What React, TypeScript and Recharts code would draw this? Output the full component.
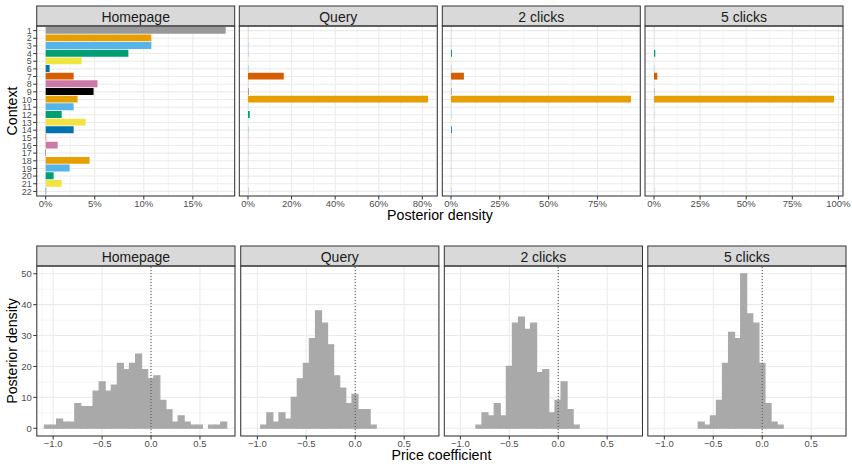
import React from 'react';
import { BarChart, Bar, XAxis, YAxis, CartesianGrid, Cell, ReferenceLine } from 'recharts';

// ---------- data ----------
const panelNames = ['Homepage', 'Query', '2 clicks', '5 clicks'];

const contexts = ['1', '2', '3', '4', '5', '6', '7', '8', '9', '10', '11', '12', '13', '14', '15', '16', '17', '18', '19', '20', '21', '22'];
const contextColors = [
  '#999999', '#E69F00', '#56B4E9', '#009E73', '#F0E442', '#0072B2', '#D55E00', '#CC79A7', '#000000',
  '#E69F00', '#56B4E9', '#009E73', '#F0E442', '#0072B2', '#D55E00', '#CC79A7', '#000000',
  '#E69F00', '#56B4E9', '#009E73', '#F0E442', '#0072B2',
];

// posterior share of each context (percent)
const homepageShare = [18.35, 10.77, 10.77, 8.43, 3.66, 0.4, 2.85, 5.28, 4.88, 3.25, 2.85, 1.63, 4.07, 2.85, 0.05, 1.22, 0.03, 4.47, 2.44, 0.81, 1.63, 0.05];
const queryShare = [0.1, 0.1, 0.15, 0.1, 0.1, 0.1, 16.4, 0.1, 0.15, 82.6, 0.1, 0.8, 0.1, 0.1, 0.1, 0.1, 0.05, 0.1, 0.1, 0.05, 0.1, 0.1];
const twoClickShare = [0.1, 0.1, 0.1, 0.5, 0.1, 0.1, 6.6, 0.1, 0.15, 92.2, 0.1, 0.1, 0.1, 0.4, 0.1, 0.1, 0.05, 0.1, 0.1, 0.05, 0.1, 0.1];
const fiveClickShare = [0.08, 0.08, 0.08, 0.7, 0.08, 0.08, 1.8, 0.08, 0.1, 97.6, 0.08, 0.08, 0.08, 0.08, 0.08, 0.08, 0.05, 0.08, 0.08, 0.05, 0.08, 0.08];
const topShares = [homepageShare, queryShare, twoClickShare, fiveClickShare];

const topMajorTicks = [[0, 5, 10, 15], [0, 20, 40, 60, 80], [0, 25, 50, 75], [0, 25, 50, 75, 100]];
const topMinorTicks = [[2.5, 7.5, 12.5, 17.5], [10, 30, 50, 70], [12.5, 37.5, 62.5, 87.5], [12.5, 37.5, 62.5, 87.5]];

// histogram of price coefficient draws
const binCenters = [
  -1.058, -0.996, -0.934, -0.872, -0.810, -0.748, -0.685, -0.623, -0.561, -0.499,
  -0.437, -0.375, -0.313, -0.251, -0.189, -0.127, -0.064, -0.002, 0.060, 0.122,
  0.184, 0.246, 0.308, 0.370, 0.432, 0.494, 0.557, 0.619, 0.681, 0.743,
];
const homepageCounts = [1, 1, 3, 2, 2, 8, 7, 7, 12, 15, 12, 14, 21, 19, 21, 24, 19, 16, 17, 9, 6, 2, 4, 2, 1, 1, 0, 1, 1, 2];
const queryCounts = [0, 0, 1, 5, 2, 5, 3, 10, 16, 21, 29, 38, 34, 27, 17, 13, 8, 11, 6, 6, 1, 0, 0, 0, 0, 0, 0, 0, 0, 0];
const twoClickCounts = [0, 0, 0, 0, 1, 5, 4, 8, 4, 20, 34, 36, 32, 34, 18, 19, 5, 9, 15, 6, 1, 0, 0, 0, 0, 0, 0, 0, 0, 0];
const fiveClickCounts = [0, 0, 0, 0, 0, 0, 0, 2, 1, 4, 9, 21, 31, 29, 50, 37, 34, 21, 8, 2, 1, 0, 0, 0, 0, 0, 0, 0, 0, 0];
const priceCounts = [homepageCounts, queryCounts, twoClickCounts, fiveClickCounts];

const priceDomain = [-1.167, 0.858];
const priceMajorTicks = [-1, -0.5, 0, 0.5];
const priceMinorTicks = [-0.75, -0.25, 0.25, 0.75];
const countDomain = [-2.5, 52.5];
const countMajorTicks = [0, 10, 20, 30, 40, 50];
const countMinorTicks = [5, 15, 25, 35, 45];

// ---------- layout ----------
const FONT = '"Liberation Sans", Arial, Helvetica, sans-serif';
const TOP_LEFTS = [36.7, 239.3, 442.3, 645];
const TOP_W = 198;
const BOT_LEFTS = [36.8, 240.7, 444.3, 647.8];
const BOT_W = 198.2;
const TOP_STRIP_Y = 6;
const TOP_PLOT_Y = 26;
const BOT_STRIP_Y = 246;
const BOT_PLOT_Y = 266;
const PLOT_H = 170;
const STRIP_H = 20;
const AXIS_H = 30;
const RIGHT_PAD = 16;
const ROW_PX = PLOT_H / (contexts.length + 0.2);

const tickStyle = { fontSize: 9.5, fill: '#4D4D4D', fontFamily: FONT };
const yCatTickStyle = { fontSize: 9, fill: '#4D4D4D', fontFamily: FONT };
const tickLineStyle = { stroke: '#333333', strokeWidth: 1 };
const GRID = '#EBEBEB';
const HIST_FILL = '#A9A9A9';

const fmtCoef = (v: number) => (v < 0 ? '\u2212' : '') + Math.abs(v).toFixed(1);

function TopPanel({ idx }: { idx: number }) {
  const values = topShares[idx];
  const data = contexts.map((c, i) => ({ context: c, share: values[i] }));
  const max = Math.max(...values);
  const domain = [-0.05 * max, 1.05 * max];
  const first = idx === 0;
  const yw = first ? TOP_LEFTS[0] : 0;
  const pad = ROW_PX * 0.1;
  return (
    <div style={{ position: 'absolute', left: TOP_LEFTS[idx] - yw, top: TOP_PLOT_Y }}>
      <BarChart
        layout="vertical"
        width={yw + TOP_W + RIGHT_PAD}
        height={PLOT_H + AXIS_H}
        data={data}
        margin={{ top: 0, right: RIGHT_PAD, bottom: 0, left: 0 }}
      >
        <CartesianGrid stroke={GRID} strokeWidth={1.07} />
        <CartesianGrid xAxisId="minor" horizontal={false} stroke={GRID} strokeWidth={0.55} />
        <XAxis
          type="number"
          domain={domain}
          ticks={topMajorTicks[idx]}
          allowDataOverflow
          interval={0}
          tickFormatter={(v: number) => `${v}%`}
          height={AXIS_H}
          axisLine={false}
          tickLine={tickLineStyle}
          tickSize={3.5}
          tickMargin={1}
          tick={tickStyle}
        />
        <XAxis xAxisId="minor" type="number" domain={domain} ticks={topMinorTicks[idx]} allowDataOverflow hide />
        <YAxis
          type="category"
          dataKey="context"
          width={yw}
          hide={!first}
          interval={0}
          padding={{ top: pad, bottom: pad }}
          axisLine={false}
          tickLine={tickLineStyle}
          tickSize={3.5}
          tickMargin={1.5}
          tick={yCatTickStyle}
        />
        <Bar dataKey="share" barSize={ROW_PX * 0.9} isAnimationActive={false}>
          {data.map((d, i) => (
            <Cell key={d.context} fill={contextColors[i]} />
          ))}
        </Bar>
      </BarChart>
    </div>
  );
}

function BottomPanel({ idx }: { idx: number }) {
  const counts = priceCounts[idx];
  const data = binCenters.map((x, i) => ({ coef: x, count: counts[i] }));
  const first = idx === 0;
  const yw = first ? BOT_LEFTS[0] : 0;
  return (
    <div style={{ position: 'absolute', left: BOT_LEFTS[idx] - yw, top: BOT_PLOT_Y }}>
      <BarChart
        width={yw + BOT_W + RIGHT_PAD}
        height={PLOT_H + AXIS_H}
        data={data}
        barCategoryGap={0}
        margin={{ top: 0, right: RIGHT_PAD, bottom: 0, left: 0 }}
      >
        <CartesianGrid stroke={GRID} strokeWidth={1.07} />
        <CartesianGrid xAxisId="minor" yAxisId="minor" stroke={GRID} strokeWidth={0.55} />
        <XAxis
          type="number"
          dataKey="coef"
          domain={priceDomain}
          ticks={priceMajorTicks}
          allowDataOverflow
          interval={0}
          tickFormatter={fmtCoef}
          height={AXIS_H}
          axisLine={false}
          tickLine={tickLineStyle}
          tickSize={3.5}
          tickMargin={1}
          tick={tickStyle}
        />
        <XAxis xAxisId="minor" type="number" domain={priceDomain} ticks={priceMinorTicks} allowDataOverflow hide />
        <YAxis
          type="number"
          domain={countDomain}
          ticks={countMajorTicks}
          allowDataOverflow
          interval={0}
          width={yw}
          hide={!first}
          axisLine={false}
          tickLine={tickLineStyle}
          tickSize={3.5}
          tickMargin={1.5}
          tick={tickStyle}
        />
        <YAxis yAxisId="minor" type="number" domain={countDomain} ticks={countMinorTicks} allowDataOverflow hide />
        <Bar dataKey="count" fill={HIST_FILL} stroke={HIST_FILL} strokeWidth={1.2} isAnimationActive={false} />
        <ReferenceLine x={0} stroke="#4D4D4D" strokeWidth={1} strokeDasharray="1 2" />
      </BarChart>
    </div>
  );
}

export default function App() {
  return (
    <div style={{ position: 'absolute', left: 0, top: 0, width: 852, height: 467, background: '#FFFFFF', fontFamily: FONT }}>
      {panelNames.map((n, i) => (
        <TopPanel key={'t' + n} idx={i} />
      ))}
      {panelNames.map((n, i) => (
        <BottomPanel key={'b' + n} idx={i} />
      ))}
      <svg width={852} height={467} style={{ position: 'absolute', left: 0, top: 0, pointerEvents: 'none' }}>
        {panelNames.map((n, i) => (
          <g key={'ts' + n}>
            <rect x={TOP_LEFTS[i]} y={TOP_STRIP_Y} width={TOP_W} height={STRIP_H} fill="#D9D9D9" stroke="#333333" strokeWidth={1} />
            <text x={TOP_LEFTS[i] + TOP_W / 2} y={TOP_STRIP_Y + 16.3} textAnchor="middle" fontSize={14} fill="#1A1A1A" fontFamily={FONT}>
              {n}
            </text>
            <rect x={TOP_LEFTS[i]} y={TOP_PLOT_Y} width={TOP_W} height={PLOT_H} fill="none" stroke="#333333" strokeWidth={1} />
          </g>
        ))}
        {panelNames.map((n, i) => (
          <g key={'bs' + n}>
            <rect x={BOT_LEFTS[i]} y={BOT_STRIP_Y} width={BOT_W} height={STRIP_H} fill="#D9D9D9" stroke="#333333" strokeWidth={1} />
            <text x={BOT_LEFTS[i] + BOT_W / 2} y={BOT_STRIP_Y + 16.3} textAnchor="middle" fontSize={14} fill="#1A1A1A" fontFamily={FONT}>
              {n}
            </text>
            <rect x={BOT_LEFTS[i]} y={BOT_PLOT_Y} width={BOT_W} height={PLOT_H} fill="none" stroke="#333333" strokeWidth={1} />
          </g>
        ))}
        <text transform={`translate(16.7, ${TOP_PLOT_Y + PLOT_H / 2}) rotate(-90)`} textAnchor="middle" fontSize={14.2} fill="#000000" fontFamily={FONT}>
          Context
        </text>
        <text x={439.9} y={219.6} textAnchor="middle" fontSize={14.2} fill="#000000" fontFamily={FONT}>
          Posterior density
        </text>
        <text transform={`translate(16.7, ${BOT_PLOT_Y + PLOT_H / 2}) rotate(-90)`} textAnchor="middle" fontSize={14.2} fill="#000000" fontFamily={FONT}>
          Posterior density
        </text>
        <text x={441.4} y={459.6} textAnchor="middle" fontSize={14.2} fill="#000000" fontFamily={FONT}>
          Price coefficient
        </text>
      </svg>
    </div>
  );
}
